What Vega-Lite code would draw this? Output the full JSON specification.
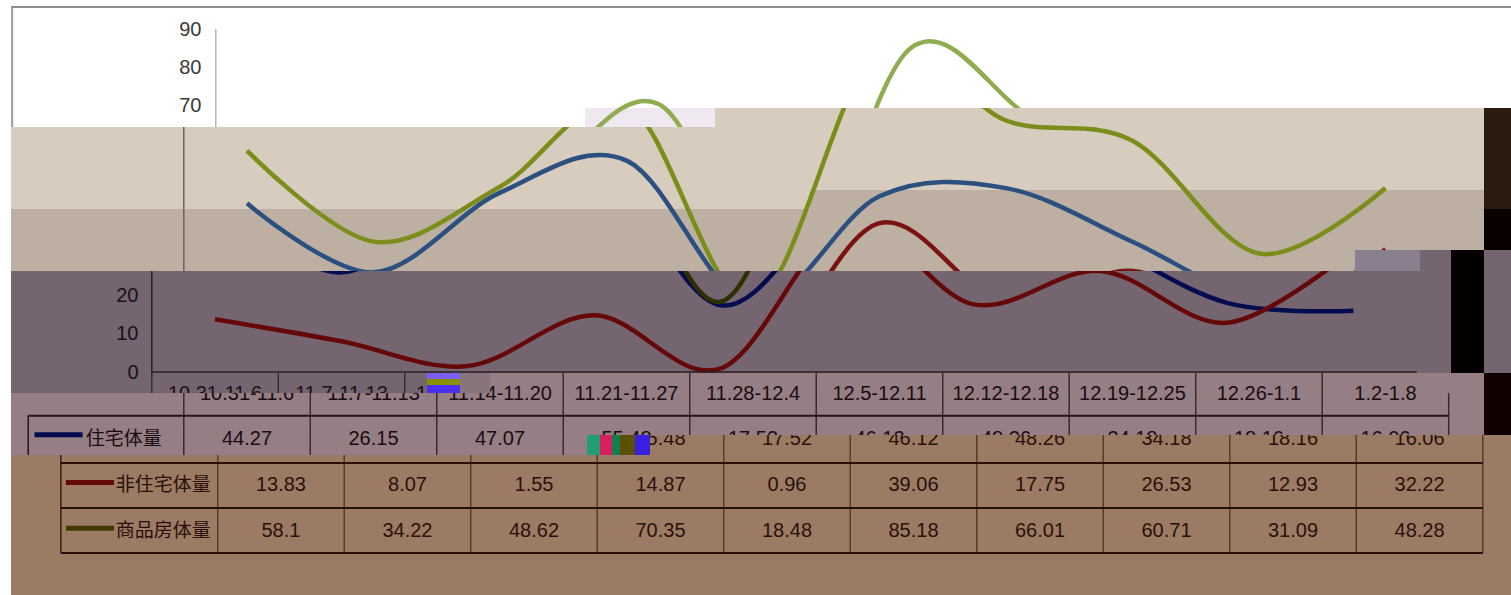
{"$schema":"https://vega.github.io/schema/vega-lite/v6.json","background":"#ffffff","padding":{"left":11,"top":0,"right":0,"bottom":0},"autosize":{"type":"pad"},"config":{"view":{"stroke":null},"concat":{"spacing":0},"text":{"font":"Liberation Sans"}},"datasets":{"weekly":[
{"week":"10.31-11.6","idx":0,"series":"住宅体量","value":44.27},{"week":"11.7-11.13","idx":1,"series":"住宅体量","value":26.15},{"week":"11.14-11.20","idx":2,"series":"住宅体量","value":47.07},{"week":"11.21-11.27","idx":3,"series":"住宅体量","value":55.48},{"week":"11.28-12.4","idx":4,"series":"住宅体量","value":17.52},{"week":"12.5-12.11","idx":5,"series":"住宅体量","value":46.12},{"week":"12.12-12.18","idx":6,"series":"住宅体量","value":48.26},{"week":"12.19-12.25","idx":7,"series":"住宅体量","value":34.18},{"week":"12.26-1.1","idx":8,"series":"住宅体量","value":18.16},{"week":"1.2-1.8","idx":9,"series":"住宅体量","value":16.06},
{"week":"10.31-11.6","idx":0,"series":"非住宅体量","value":13.83},{"week":"11.7-11.13","idx":1,"series":"非住宅体量","value":8.07},{"week":"11.14-11.20","idx":2,"series":"非住宅体量","value":1.55},{"week":"11.21-11.27","idx":3,"series":"非住宅体量","value":14.87},{"week":"11.28-12.4","idx":4,"series":"非住宅体量","value":0.96},{"week":"12.5-12.11","idx":5,"series":"非住宅体量","value":39.06},{"week":"12.12-12.18","idx":6,"series":"非住宅体量","value":17.75},{"week":"12.19-12.25","idx":7,"series":"非住宅体量","value":26.53},{"week":"12.26-1.1","idx":8,"series":"非住宅体量","value":12.93},{"week":"1.2-1.8","idx":9,"series":"非住宅体量","value":32.22},
{"week":"10.31-11.6","idx":0,"series":"商品房体量","value":58.1},{"week":"11.7-11.13","idx":1,"series":"商品房体量","value":34.22},{"week":"11.14-11.20","idx":2,"series":"商品房体量","value":48.62},{"week":"11.21-11.27","idx":3,"series":"商品房体量","value":70.35},{"week":"11.28-12.4","idx":4,"series":"商品房体量","value":18.48},{"week":"12.5-12.11","idx":5,"series":"商品房体量","value":85.18},{"week":"12.12-12.18","idx":6,"series":"商品房体量","value":66.01},{"week":"12.19-12.25","idx":7,"series":"商品房体量","value":60.71},{"week":"12.26-1.1","idx":8,"series":"商品房体量","value":31.09},{"week":"1.2-1.8","idx":9,"series":"商品房体量","value":48.28}
]},"data":{"name":"weekly"},"spacing":0,"resolve":{"scale":{"color":"independent"}},"vconcat":[
{"spacing":0,"resolve":{"scale":{"color":"independent"}},"hconcat":[
{"width":574,"height":127,"view":{"fill":"#ffffff","stroke":null},"layer":[
{"mark":{"type":"line","interpolate":"cardinal","tension":0,"clip":true,"strokeWidth":4.5},"encoding":{"x":{"field":"idx","type":"quantitative","axis":null,"scale":{"domain":[-2.119,2.419],"nice":false,"zero":false}},"y":{"field":"value","type":"quantitative","scale":{"domain":[64.30,97.64],"nice":false,"zero":false},"axis":{"orient":"left","offset":-205,"values":[70,80,90],"domain":false,"ticks":false,"grid":false,"title":null,"labelPadding":15,"labelFont":"Liberation Sans","labelFontSize":20,"labelColor":"#3a3a3a"}},"color":{"field":"series","type":"nominal","legend":null,"scale":{"domain":["住宅体量","非住宅体量","商品房体量"],"range":["#2B5080","#7A1210","#90AC50"]}}}},
{"data":{"values":[{}]},"mark":{"type":"rule","clip":true,"color":"#b5b5b5","strokeWidth":1.5},"encoding":{"x":{"datum":-0.5},"y":{"datum":0},"y2":{"datum":90}}},
{"data":{"values":[{}]},"mark":{"type":"rule","clip":true,"color":"#8c8c8c","strokeWidth":2},"encoding":{"y":{"datum":95.8}}},
{"data":{"values":[{}]},"mark":{"type":"rule","clip":true,"color":"#9a9a9a","strokeWidth":2},"encoding":{"x":{"datum":-2.11},"y":{"datum":95.8},"y2":{"datum":64.3}}}
]},
{"spacing":0,"resolve":{"scale":{"color":"independent"}},"vconcat":[
{"width":926,"height":108,"view":{"fill":"#ffffff","stroke":null},"layer":[
{"mark":{"type":"line","interpolate":"cardinal","tension":0,"clip":true,"strokeWidth":4.5},"encoding":{"x":{"field":"idx","type":"quantitative","axis":null,"scale":{"domain":[2.419,9.739],"nice":false,"zero":false}},"y":{"field":"value","type":"quantitative","axis":null,"scale":{"domain":[69.29,97.64],"nice":false,"zero":false}},"color":{"field":"series","type":"nominal","legend":null,"scale":{"domain":["住宅体量","非住宅体量","商品房体量"],"range":["#2B5080","#7A1210","#90AC50"]}}}},
{"data":{"values":[{}]},"mark":{"type":"rule","clip":true,"color":"#8c8c8c","strokeWidth":2},"encoding":{"y":{"datum":95.8}}}
]},
{"spacing":0,"resolve":{"scale":{"color":"independent"}},"hconcat":[
{"width":130,"height":19,"view":{"fill":"#EFE8F0","stroke":null},"mark":{"type":"line","interpolate":"cardinal","tension":0,"clip":true,"strokeWidth":4.5},"encoding":{"x":{"field":"idx","type":"quantitative","axis":null,"scale":{"domain":[2.419,3.447],"nice":false,"zero":false}},"y":{"field":"value","type":"quantitative","axis":null,"scale":{"domain":[64.30,69.29],"nice":false,"zero":false}},"color":{"field":"series","type":"nominal","legend":null,"scale":{"domain":["住宅体量","非住宅体量","商品房体量"],"range":["#2B5080","#7A1210","#90AC50"]}}}},
{"width":769,"height":19,"view":{"fill":"#D8CCBE","stroke":null},"mark":{"type":"line","interpolate":"cardinal","tension":0,"clip":true,"strokeWidth":4.5},"encoding":{"x":{"field":"idx","type":"quantitative","axis":null,"scale":{"domain":[3.700,9.779],"nice":false,"zero":false}},"y":{"field":"value","type":"quantitative","axis":null,"scale":{"domain":[64.30,69.29],"nice":false,"zero":false}},"color":{"field":"series","type":"nominal","legend":null,"scale":{"domain":["住宅体量","非住宅体量","商品房体量"],"range":["#2B5080","#7A1210","#7B8E1C"]}}}},
{"width":27,"height":19,"view":{"fill":"#2A1C10","stroke":null},"data":{"values":[{}]},"mark":{"type":"point","opacity":0},"encoding":{}}
]}
]}
]},
{"spacing":0,"resolve":{"scale":{"color":"independent"}},"hconcat":[
{"width":1344,"height":144,"view":{"fill":"#D8CCBE","stroke":null},"layer":[
{"data":{"values":[{}]},"mark":{"type":"rect","clip":true,"color":"#BDB0A2"},"encoding":{"x":{"datum":-1.866,"axis":null,"scale":{"domain":[-1.866,8.759],"nice":false,"zero":false}},"x2":{"datum":4.451},"y":{"datum":26.51,"scale":{"domain":[26.51,64.30],"nice":false,"zero":false},"axis":null},"y2":{"datum":42.78}}},
{"data":{"values":[{}]},"mark":{"type":"rect","clip":true,"color":"#BDB0A2"},"encoding":{"x":{"datum":4.451},"x2":{"datum":8.759},"y":{"datum":26.51},"y2":{"datum":47.77}}},
{"mark":{"type":"line","interpolate":"cardinal","tension":0,"clip":true,"strokeWidth":4.5},"encoding":{"x":{"field":"idx","type":"quantitative"},"y":{"field":"value","type":"quantitative","axis":{"orient":"left","offset":-174,"values":[30,40,50,60],"domain":false,"ticks":false,"grid":false,"title":null,"labelPadding":15,"labelFont":"Liberation Sans","labelFontSize":20,"labelColor":"#2e241e"}},"color":{"field":"series","type":"nominal","legend":null,"scale":{"domain":["住宅体量","非住宅体量","商品房体量"],"range":["#2B5080","#7A1210","#7B8E1C"]}}}},
{"data":{"values":[{}]},"mark":{"type":"rule","clip":true,"color":"#6f645b","strokeWidth":1.5},"encoding":{"x":{"datum":-0.5},"y":{"datum":0},"y2":{"datum":90}}}
]},
{"spacing":0,"resolve":{"scale":{"color":"independent"}},"vconcat":[
{"spacing":0,"resolve":{"scale":{"color":"independent"}},"hconcat":[
{"width":129,"height":123,"view":{"fill":"#D8CCBE","stroke":null},"layer":[
{"data":{"values":[{}]},"mark":{"type":"rect","clip":true,"color":"#BDB0A2"},"encoding":{"x":{"datum":8.759,"axis":null,"scale":{"domain":[8.759,9.779],"nice":false,"zero":false}},"x2":{"datum":9.779},"y":{"datum":32.02,"scale":{"domain":[32.02,64.30],"nice":false,"zero":false},"axis":null},"y2":{"datum":47.77}}},
{"mark":{"type":"line","interpolate":"cardinal","tension":0,"clip":true,"strokeWidth":4.5},"encoding":{"x":{"field":"idx","type":"quantitative"},"y":{"field":"value","type":"quantitative"},"color":{"field":"series","type":"nominal","legend":null,"scale":{"domain":["住宅体量","非住宅体量","商品房体量"],"range":["#2B5080","#7A1210","#7B8E1C"]}}}}
]},
{"spacing":0,"vconcat":[
{"width":27,"height":82,"view":{"fill":"#2A1C10","stroke":null},"data":{"values":[{}]},"mark":{"type":"point","opacity":0},"encoding":{}},
{"width":27,"height":41,"view":{"fill":"#0A0000","stroke":null},"data":{"values":[{}]},"mark":{"type":"point","opacity":0},"encoding":{}}
]}
]},
{"spacing":0,"hconcat":[
{"width":65,"height":21,"view":{"fill":"#8A7F8E","stroke":null},"data":{"values":[{}]},"mark":{"type":"point","opacity":0},"encoding":{}},
{"width":31,"height":21,"view":{"fill":"#756570","stroke":null},"data":{"values":[{}]},"mark":{"type":"point","opacity":0},"encoding":{}},
{"width":33,"height":21,"view":{"fill":"#050000","stroke":null},"data":{"values":[{}]},"mark":{"type":"point","opacity":0},"encoding":{}},
{"width":27,"height":21,"view":{"fill":"#756570","stroke":null},"data":{"values":[{}]},"mark":{"type":"point","opacity":0},"encoding":{}}
]}
]}
]},
{"spacing":0,"resolve":{"scale":{"color":"independent"}},"hconcat":[
{"width":416,"height":122,"view":{"fill":"#756570","stroke":null},"layer":[
{"mark":{"type":"line","interpolate":"cardinal","tension":0,"clip":true,"strokeWidth":4.5},"encoding":{"x":{"field":"idx","type":"quantitative","axis":null,"scale":{"domain":[-1.613,1.676],"nice":false,"zero":false}},"y":{"field":"value","type":"quantitative","scale":{"domain":[-5.51,26.51],"nice":false,"zero":false},"axis":{"orient":"left","offset":-142,"values":[0,10,20],"domain":false,"ticks":false,"grid":false,"title":null,"labelPadding":15,"labelFont":"Liberation Sans","labelFontSize":20,"labelColor":"#1a1014"}},"color":{"field":"series","type":"nominal","legend":null,"scale":{"domain":["住宅体量","非住宅体量","商品房体量"],"range":["#040C50","#650808","#2F3000"]}}}},
{"data":{"values":[{}]},"mark":{"type":"rule","clip":true,"color":"#2a2026","strokeWidth":1.5},"encoding":{"x":{"datum":-0.5},"y":{"datum":0},"y2":{"datum":90}}},
{"data":{"values":[{}]},"mark":{"type":"rule","clip":true,"color":"#2a2026","strokeWidth":1.5},"encoding":{"x":{"datum":-0.5},"x2":{"datum":9.5},"y":{"datum":0}}},
{"transform":[{"filter":"datum.series==='住宅体量'"}],"mark":{"type":"rule","clip":true,"color":"#3a2a30","strokeWidth":1.5,"xOffset":-63.25},"encoding":{"x":{"field":"idx","type":"quantitative"},"y":{"datum":0},"y2":{"datum":-47.5}}},
{"transform":[{"filter":"datum.series==='住宅体量'"}],"mark":{"type":"text","clip":true,"font":"Liberation Sans","fontSize":20,"color":"#1a1014"},"encoding":{"x":{"field":"idx","type":"quantitative"},"y":{"datum":-5.77},"text":{"field":"week","type":"nominal"}}}
]},
{"spacing":0,"resolve":{"scale":{"color":"independent"}},"vconcat":[
{"spacing":0,"resolve":{"scale":{"color":"independent"}},"hconcat":[
{"width":1024,"height":102,"view":{"fill":"#756570","stroke":null},"layer":[
{"mark":{"type":"line","interpolate":"cardinal","tension":0,"clip":true,"strokeWidth":4.5},"encoding":{"x":{"field":"idx","type":"quantitative","axis":null,"scale":{"domain":[1.676,9.771],"nice":false,"zero":false}},"y":{"field":"value","type":"quantitative","axis":null,"scale":{"domain":[-0.26,26.51],"nice":false,"zero":false}},"color":{"field":"series","type":"nominal","legend":null,"scale":{"domain":["住宅体量","非住宅体量","商品房体量"],"range":["#040C50","#650808","#2F3000"]}}}},
{"data":{"values":[{}]},"mark":{"type":"rule","clip":true,"color":"#2a2026","strokeWidth":1.5},"encoding":{"x":{"datum":-0.5},"x2":{"datum":9.5},"y":{"datum":0}}}
]},
{"width":33,"height":102,"view":{"fill":"#050000","stroke":null},"data":{"values":[{}]},"mark":{"type":"point","opacity":0},"encoding":{}},
{"width":27,"height":102,"view":{"fill":"#756570","stroke":null},"data":{"values":[{}]},"mark":{"type":"point","opacity":0},"encoding":{}}
]},
{"spacing":0,"hconcat":[
{"spacing":0,"vconcat":[
{"width":33,"height":6,"view":{"fill":"#7A60F0","stroke":null},"data":{"values":[{}]},"mark":{"type":"point","opacity":0},"encoding":{}},
{"width":33,"height":6,"view":{"fill":"#8A9000","stroke":null},"data":{"values":[{}]},"mark":{"type":"point","opacity":0},"encoding":{}},
{"width":33,"height":8,"view":{"fill":"#4A30F0","stroke":null},"data":{"values":[{}]},"mark":{"type":"point","opacity":0},"encoding":{}}
]},
{"width":30,"height":20,"view":{"fill":"#87747C","stroke":null},"data":{"values":[{}]},"mark":{"type":"point","opacity":0},"encoding":{}},
{"width":994,"height":20,"view":{"fill":"#957E84","stroke":null},"layer":[
{"transform":[{"filter":"datum.series==='住宅体量'"}],"mark":{"type":"rule","clip":true,"color":"#3a2a30","strokeWidth":1.5,"xOffset":-63.25},"encoding":{"x":{"field":"idx","type":"quantitative","axis":null,"scale":{"domain":[1.921,9.779],"nice":false,"zero":false}},"y":{"datum":0,"axis":null,"scale":{"domain":[-5.51,-0.26],"nice":false,"zero":false}},"y2":{"datum":-47.5}}},
{"transform":[{"filter":"datum.series==='住宅体量'"}],"mark":{"type":"text","clip":true,"font":"Liberation Sans","fontSize":20,"color":"#1a0c10"},"encoding":{"x":{"field":"idx","type":"quantitative"},"y":{"datum":-5.77},"text":{"field":"week","type":"nominal"}}}
]},
{"width":27,"height":20,"view":{"fill":"#100000","stroke":null},"data":{"values":[{}]},"mark":{"type":"point","opacity":0},"encoding":{}}
]}
]}
]},
{"spacing":0,"hconcat":[
{"width":1473,"height":42,"view":{"fill":"#957E84","stroke":null},"layer":[
{"transform":[{"filter":"datum.series==='住宅体量'"}],"mark":{"type":"rule","clip":true,"color":"#3a2a30","strokeWidth":1.5,"xOffset":-63.25},"encoding":{"x":{"field":"idx","type":"quantitative","axis":null,"scale":{"domain":[-1.866,9.779],"nice":false,"zero":false}},"y":{"datum":0,"axis":null,"scale":{"domain":[-16.54,-5.51],"nice":false,"zero":false}},"y2":{"datum":-47.5}}},
{"data":{"values":[{}]},"mark":{"type":"rule","clip":true,"color":"#3a2a30","strokeWidth":1.5},"encoding":{"x":{"datum":9.5},"y":{"datum":0},"y2":{"datum":-47.5}}},
{"data":{"values":[{}]},"mark":{"type":"rule","clip":true,"color":"#2a1418","strokeWidth":2},"encoding":{"x":{"datum":-1.73},"x2":{"datum":9.5},"y":{"datum":-11.5}}},
{"data":{"values":[{}]},"mark":{"type":"rule","clip":true,"color":"#2a1418","strokeWidth":1.5},"encoding":{"x":{"datum":-1.73},"y":{"datum":-11.5},"y2":{"datum":-47.5}}},
{"transform":[{"filter":"datum.series==='住宅体量'"}],"mark":{"type":"text","clip":true,"font":"Liberation Sans","fontSize":20,"color":"#1a0c10"},"encoding":{"x":{"field":"idx","type":"quantitative"},"y":{"datum":-5.77},"text":{"field":"week","type":"nominal"}}},
{"transform":[{"filter":"datum.series==='住宅体量'"}],"mark":{"type":"text","clip":true,"font":"Liberation Sans","fontSize":20,"color":"#1a0c10"},"encoding":{"x":{"field":"idx","type":"quantitative"},"y":{"datum":-17.56},"text":{"field":"value","type":"nominal"}}},
{"transform":[{"filter":"datum.series==='住宅体量' && datum.idx===0"}],"mark":{"type":"text","clip":true,"font":"Noto Sans CJK SC","fontSize":19,"color":"#1a0c10"},"encoding":{"x":{"datum":-0.975},"y":{"datum":-17.56},"text":{"field":"series","type":"nominal"}}},
{"data":{"values":[{}]},"mark":{"type":"rule","clip":true,"color":"#040C50","strokeWidth":5},"encoding":{"x":{"datum":-1.68},"x2":{"datum":-1.30},"y":{"datum":-16.5}}}
]},
{"width":27,"height":42,"view":{"fill":"#100000","stroke":null},"data":{"values":[{}]},"mark":{"type":"point","opacity":0},"encoding":{}}
]},
{"spacing":0,"hconcat":[
{"width":576,"height":20,"view":{"fill":"#957E84","stroke":null},"layer":[
{"transform":[{"filter":"datum.series==='住宅体量'"}],"mark":{"type":"rule","clip":true,"color":"#3a2a30","strokeWidth":1.5,"xOffset":-63.25},"encoding":{"x":{"field":"idx","type":"quantitative","axis":null,"scale":{"domain":[-1.866,2.688],"nice":false,"zero":false}},"y":{"datum":0,"axis":null,"scale":{"domain":[-21.78,-16.54],"nice":false,"zero":false}},"y2":{"datum":-47.5}}},
{"data":{"values":[{}]},"mark":{"type":"rule","clip":true,"color":"#2a1418","strokeWidth":1.5},"encoding":{"x":{"datum":-1.73},"y":{"datum":-11.5},"y2":{"datum":-47.5}}},
{"transform":[{"filter":"datum.series==='住宅体量'"}],"mark":{"type":"text","clip":true,"font":"Liberation Sans","fontSize":20,"color":"#1a0c10"},"encoding":{"x":{"field":"idx","type":"quantitative"},"y":{"datum":-17.56},"text":{"field":"value","type":"nominal"}}},
{"transform":[{"filter":"datum.series==='住宅体量' && datum.idx===0"}],"mark":{"type":"text","clip":true,"font":"Noto Sans CJK SC","fontSize":19,"color":"#1a0c10"},"encoding":{"x":{"datum":-0.975},"y":{"datum":-17.56},"text":{"field":"series","type":"nominal"}}},
{"data":{"values":[{}]},"mark":{"type":"rule","clip":true,"color":"#040C50","strokeWidth":5},"encoding":{"x":{"datum":-1.68},"x2":{"datum":-1.30},"y":{"datum":-16.5}}}
]},
{"width":13,"height":20,"view":{"fill":"#20A070","stroke":null},"data":{"values":[{}]},"mark":{"type":"point","opacity":0},"encoding":{}},
{"width":12,"height":20,"view":{"fill":"#D82060","stroke":null},"data":{"values":[{}]},"mark":{"type":"point","opacity":0},"encoding":{}},
{"width":8,"height":20,"view":{"fill":"#108050","stroke":null},"data":{"values":[{}]},"mark":{"type":"point","opacity":0},"encoding":{}},
{"width":15,"height":20,"view":{"fill":"#5A5000","stroke":null},"data":{"values":[{}]},"mark":{"type":"point","opacity":0},"encoding":{}},
{"width":15,"height":20,"view":{"fill":"#3A20E0","stroke":null},"data":{"values":[{}]},"mark":{"type":"point","opacity":0},"encoding":{}},
{"width":861,"height":20,"view":{"fill":"#9C7B65","stroke":null},"layer":[
{"transform":[{"filter":"datum.series==='住宅体量'"}],"mark":{"type":"rule","clip":true,"color":"#5A3A28","strokeWidth":1.5,"xOffset":-63.25},"encoding":{"x":{"field":"idx","type":"quantitative","axis":null,"scale":{"domain":[2.917,9.723],"nice":false,"zero":false}},"y":{"datum":0,"axis":null,"scale":{"domain":[-21.78,-16.54],"nice":false,"zero":false}},"y2":{"datum":-47.5}}},
{"data":{"values":[{}]},"mark":{"type":"rule","clip":true,"color":"#5A3A28","strokeWidth":1.5},"encoding":{"x":{"datum":9.5},"y":{"datum":0},"y2":{"datum":-47.5}}},
{"transform":[{"filter":"datum.series==='住宅体量'"}],"mark":{"type":"text","clip":true,"font":"Liberation Sans","fontSize":20,"color":"#2a100a"},"encoding":{"x":{"field":"idx","type":"quantitative"},"y":{"datum":-17.56},"text":{"field":"value","type":"nominal"}}}
]}
]},
{"width":1500,"height":140,"view":{"fill":"#9C7B65","stroke":null},"layer":[
{"transform":[{"filter":"datum.series==='住宅体量'"}],"mark":{"type":"rule","clip":true,"color":"#5A3A28","strokeWidth":1.5,"xOffset":-63.25},"encoding":{"x":{"field":"idx","type":"quantitative","axis":null,"scale":{"domain":[-2.134,9.723],"nice":false,"zero":false}},"y":{"datum":0,"axis":null,"scale":{"domain":[-58.53,-21.78],"nice":false,"zero":false}},"y2":{"datum":-47.5}}},
{"data":{"values":[{}]},"mark":{"type":"rule","clip":true,"color":"#5A3A28","strokeWidth":1.5},"encoding":{"x":{"datum":9.5},"y":{"datum":0},"y2":{"datum":-47.5}}},
{"data":{"values":[{}]},"mark":{"type":"rule","clip":true,"color":"#3A1E14","strokeWidth":1.5},"encoding":{"x":{"datum":-1.74},"y":{"datum":-11.5},"y2":{"datum":-47.5}}},
{"data":{"values":[{}]},"mark":{"type":"rule","clip":true,"color":"#2A0E08","strokeWidth":2},"encoding":{"x":{"datum":-1.74},"x2":{"datum":9.5},"y":{"datum":-23.9}}},
{"data":{"values":[{}]},"mark":{"type":"rule","clip":true,"color":"#2A0E08","strokeWidth":2},"encoding":{"x":{"datum":-1.74},"x2":{"datum":9.5},"y":{"datum":-35.7}}},
{"data":{"values":[{}]},"mark":{"type":"rule","clip":true,"color":"#2A0E08","strokeWidth":2},"encoding":{"x":{"datum":-1.74},"x2":{"datum":9.5},"y":{"datum":-47.5}}},
{"transform":[{"filter":"datum.series==='非住宅体量'"}],"mark":{"type":"text","clip":true,"font":"Liberation Sans","fontSize":20,"color":"#2a100a"},"encoding":{"x":{"field":"idx","type":"quantitative"},"y":{"datum":-29.66},"text":{"field":"value","type":"nominal"}}},
{"transform":[{"filter":"datum.series==='商品房体量'"}],"mark":{"type":"text","clip":true,"font":"Liberation Sans","fontSize":20,"color":"#2a100a"},"encoding":{"x":{"field":"idx","type":"quantitative"},"y":{"datum":-41.76},"text":{"field":"value","type":"nominal"}}},
{"transform":[{"filter":"datum.series==='非住宅体量' && datum.idx===0"}],"mark":{"type":"text","clip":true,"font":"Noto Sans CJK SC","fontSize":19,"color":"#2a100a"},"encoding":{"x":{"datum":-0.93},"y":{"datum":-29.66},"text":{"field":"series","type":"nominal"}}},
{"transform":[{"filter":"datum.series==='商品房体量' && datum.idx===0"}],"mark":{"type":"text","clip":true,"font":"Noto Sans CJK SC","fontSize":19,"color":"#2a100a"},"encoding":{"x":{"datum":-0.93},"y":{"datum":-41.76},"text":{"field":"series","type":"nominal"}}},
{"data":{"values":[{}]},"mark":{"type":"rule","clip":true,"color":"#650808","strokeWidth":5},"encoding":{"x":{"datum":-1.70},"x2":{"datum":-1.32},"y":{"datum":-29.0}}},
{"data":{"values":[{}]},"mark":{"type":"rule","clip":true,"color":"#3F3800","strokeWidth":5},"encoding":{"x":{"datum":-1.70},"x2":{"datum":-1.32},"y":{"datum":-41.0}}}
]}
]}
